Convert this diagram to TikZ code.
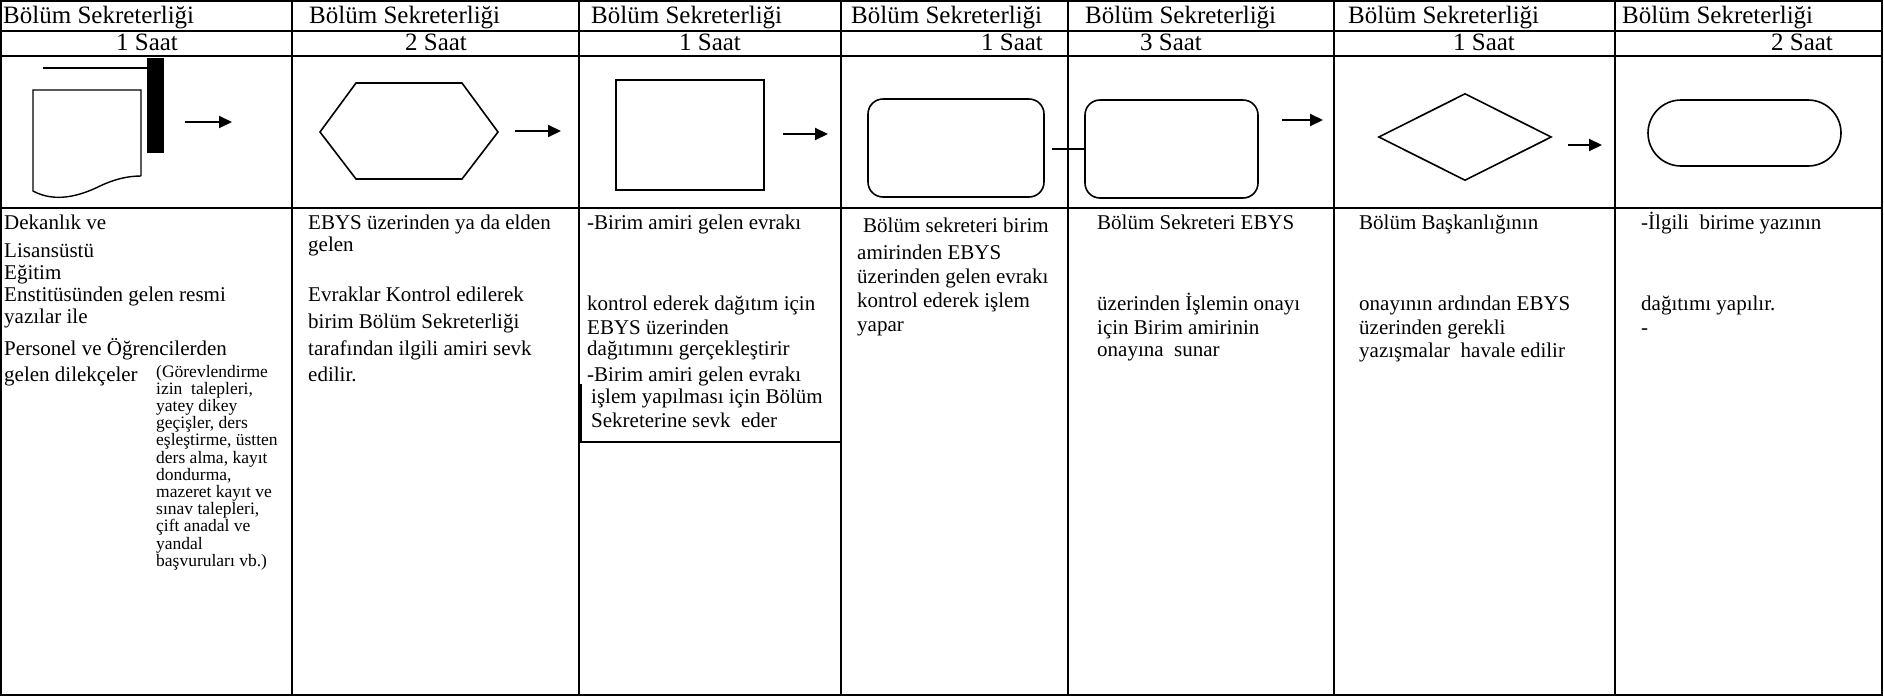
\documentclass[tikz,border=0pt]{standalone}
\usepackage{fontspec}
\setmainfont{Liberation Serif}
\usetikzlibrary{arrows.meta, shapes.geometric, shapes.misc, positioning}

\tikzset{
  frame/.style={line width=2.5pt},
  thinrule/.style={line width=1.4pt},
  symb/.style={draw, line width=1.6pt, inner sep=0pt},
  flow/.style={-{Triangle[length=13pt,width=12pt]}, line width=2pt},
  head/.style={font=\fontsize{25}{30}\selectfont, inner sep=0pt, anchor=base west},
  saat/.style={font=\fontsize{25}{30}\selectfont, inner sep=0pt, anchor=base},
  body/.style={font=\fontsize{21}{25}\selectfont, inner sep=0pt, anchor=base west},
  small/.style={font=\fontsize{17.5}{20}\selectfont, inner sep=0pt, anchor=base west}
}

\begin{document}
\begin{tikzpicture}[x=1pt,y=-1pt]
  \useasboundingbox (0,0) rectangle (1884,697);

  % table frame
  \draw[frame] (1,1) rectangle (1882,695);
  \foreach \x in {292,579,841,1068,1334,1615}
    \draw[frame] (\x,1) -- (\x,695);
  \draw[thinrule] (1,31) -- (1882,31);
  \draw[thinrule] (1,56) -- (1882,56);
  \draw[frame] (1,208) -- (1882,208);

  % header rows
  \foreach \x [count=\i] in {3,309,591,851,1085,1348,1622}
    \node[head] (hd\i) at (\x,23) {Bölüm Sekreterliği};
  \foreach \x/\hr [count=\i] in {147/1,436/2,710/1,1012/1,1171/3,1484/1,1802/2}
    \node[saat] (sa\i) at (\x,50) {\hr\ Saat};

  % symbols
  \draw[line width=2.5pt] (43,68) -- (147,68);
  \fill (147,58) rectangle (164,153);
  \draw[line width=1.4pt] (141,176) -- (141,90) -- (33,90) -- (33,191)
    .. controls (55,203) and (80,196) .. (100,186)
    .. controls (115,179) and (128,176) .. (141,176);
  \draw[symb] (320,132) -- (356,83) -- (462,83) -- (498,132) -- (462,179) -- (356,179) -- cycle;
  \node[symb, rectangle, minimum width=148pt, minimum height=110pt] (sq) at (690,135) {};
  \node[symb, rectangle, rounded corners=15pt, minimum width=176pt, minimum height=98pt] (rr4) at (956,148) {};
  \node[symb, rectangle, rounded corners=15pt, minimum width=173pt, minimum height=98pt] (rr5) at (1171.5,149) {};
  \node[symb, diamond, minimum width=173pt, minimum height=87pt] (dm) at (1465,137) {};
  \node[symb, rectangle, rounded corners=33pt, minimum width=193pt, minimum height=66pt] (st) at (1744.5,133) {};

  % arrows
  \coordinate (a1s) at (185,122);  \coordinate (a1e) at (232,122);
  \coordinate (a2s) at (515,131);  \coordinate (a2e) at (561,131);
  \coordinate (a3s) at (783,134);  \coordinate (a3e) at (828,134);
  \coordinate (a5s) at (1282,120); \coordinate (a5e) at (1323,120);
  \coordinate (a6s) at (1568,145); \coordinate (a6e) at (1602,145);
  \foreach \n in {1,2,3,5,6}
    \draw[flow] (a\n s) -- (a\n e);
  \coordinate (lk) at (1052,149);
  \draw[line width=1.6pt] (lk) -- (rr5.west);

  % column 1
  \foreach \y/\s [count=\i] in {229/Dekanlık ve, 257/Lisansüstü, 279/Eğitim,
      301/Enstitüsünden gelen resmi, 323/yazılar ile,
      355/Personel ve Öğrencilerden, 381/gelen dilekçeler}
    \node[body] (ca\i) at (4,\y) {\s};
  \foreach \s [count=\i] in {{(Görevlendirme}, {izin\ \ talepleri,}, {yatey dikey},
      {geçişler, ders}, {eşleştirme, üstten}, {ders alma, kayıt}, {dondurma,},
      {mazeret kayıt ve}, {sınav talepleri,}, {çift anadal ve}, {yandal},
      {başvuruları vb.)}}
    \node[small] (cs\i) at (156,{377+17.2*(\i-1)}) {\s};

  % column 2
  \foreach \y/\s [count=\i] in {229/EBYS üzerinden ya da elden, 251/gelen,
      301/Evraklar Kontrol edilerek, 328/birim Bölüm Sekreterliği,
      355/tarafından ilgili amiri sevk, 381/edilir.}
    \node[body] (cb\i) at (308,\y) {\s};

  % column 3
  \foreach \y/\s [count=\i] in {229/-Birim amiri gelen evrakı,
      310/kontrol ederek dağıtım için, 334/EBYS üzerinden,
      355/dağıtımını gerçekleştirir, 381/-Birim amiri gelen evrakı}
    \node[body] (cc\i) at (587,\y) {\s};
  \node[body] (cc6) at (591,403) {işlem yapılması için Bölüm};
  \node[body] (cc7) at (591,427) {Sekreterine sevk\ \ eder};
  \draw[line width=1.8pt] (581,384) -- (581,442) -- (841,442);

  % column 4
  \node[body] (cd1) at (863,232) {Bölüm sekreteri birim};
  \foreach \y/\s [count=\i from 2] in {259/amirinden EBYS,
      283/üzerinden gelen evrakı, 307/kontrol ederek işlem, 331/yapar}
    \node[body] (cd\i) at (857,\y) {\s};

  % column 5
  \foreach \y/\s [count=\i] in {229/Bölüm Sekreteri EBYS,
      310/üzerinden İşlemin onayı, 334/için Birim amirinin, 356/onayına\ \ sunar}
    \node[body] (ce\i) at (1097,\y) {\s};

  % column 6
  \foreach \y/\s [count=\i] in {229/Bölüm Başkanlığının,
      310/onayının ardından EBYS, 334/üzerinden gerekli,
      357/yazışmalar\ \ havale edilir}
    \node[body] (cf\i) at (1359,\y) {\s};

  % column 7
  \foreach \y/\s [count=\i] in {229/-İlgili\ \ birime yazının,
      310/dağıtımı yapılır., 334/-}
    \node[body] (cg\i) at (1641,\y) {\s};
\end{tikzpicture}
\end{document}
